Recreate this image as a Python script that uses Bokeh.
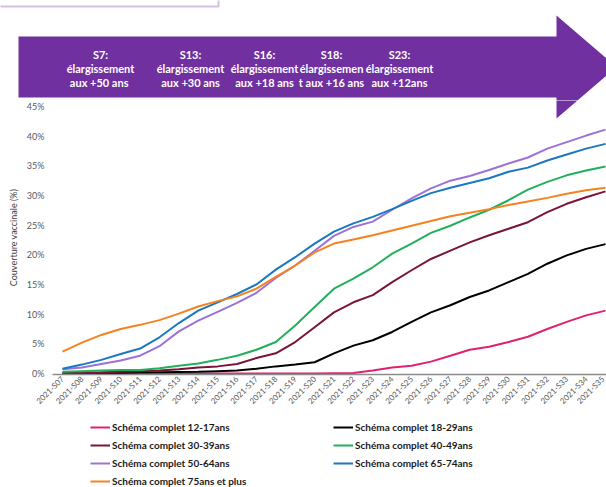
from math import pi
from bokeh.plotting import figure
from bokeh.layouts import column
from bokeh.models import (Range1d, FixedTicker, PrintfTickFormatter, Legend, LegendItem,
                          PolyAnnotation, Label)
from bokeh.embed import file_html
from bokeh.resources import INLINE

# ---------------- data ----------------
weeks = ["2021-S07", "2021-S08", "2021-S09", "2021-S10", "2021-S11", "2021-S12", "2021-S13",
         "2021-S14", "2021-S15", "2021-S16", "2021-S17", "2021-S18", "2021-S19", "2021-S20",
         "2021-S21", "2021-S22", "2021-S23", "2021-S24", "2021-S25", "2021-S26", "2021-S27",
         "2021-S28", "2021-S29", "2021-S30", "2021-S31", "2021-S32", "2021-S33", "2021-S34",
         "2021-S35"]

age_12_17 = [0, 0, 0, 0, 0, 0, 0, 0, 0, 0, 0, 0, 0, 0, 0.05, 0.1, 0.5, 1.0, 1.3, 2.0, 3.0,
             4.0, 4.5, 5.3, 6.2, 7.5, 8.7, 9.8, 10.6]
age_18_29 = [0, 0.05, 0.1, 0.1, 0.15, 0.2, 0.25, 0.3, 0.4, 0.5, 0.8, 1.2, 1.5, 1.9, 3.4, 4.7,
             5.6, 7.0, 8.7, 10.3, 11.5, 12.9, 14.0, 15.4, 16.8, 18.5, 19.9, 21.0, 21.8]
age_30_39 = [0.1, 0.15, 0.2, 0.3, 0.4, 0.5, 0.7, 1.0, 1.2, 1.6, 2.6, 3.4, 5.3, 7.8, 10.3, 12.0,
             13.2, 15.4, 17.4, 19.3, 20.7, 22.1, 23.3, 24.4, 25.5, 27.2, 28.6, 29.7, 30.7]
age_40_49 = [0.3, 0.4, 0.5, 0.6, 0.6, 0.9, 1.3, 1.7, 2.3, 3.0, 4.0, 5.3, 8.1, 11.2, 14.3, 16.0,
             17.9, 20.2, 21.9, 23.7, 24.9, 26.3, 27.6, 29.2, 31.0, 32.3, 33.4, 34.2, 34.9]
age_50_64 = [0.7, 1.0, 1.6, 2.2, 3.0, 4.6, 7.1, 8.9, 10.4, 11.9, 13.6, 16.1, 18.2, 20.7, 23.2,
             24.7, 25.6, 27.6, 29.5, 31.2, 32.5, 33.3, 34.3, 35.4, 36.4, 37.9, 39.0, 40.1, 41.1]
age_65_74 = [0.8, 1.5, 2.3, 3.3, 4.2, 6.1, 8.5, 10.6, 12.0, 13.4, 15.0, 17.5, 19.6, 21.9, 23.9,
             25.3, 26.4, 27.7, 29.1, 30.4, 31.3, 32.1, 32.9, 34.0, 34.7, 35.9, 36.9, 37.9, 38.7]
age_75_plus = [3.7, 5.2, 6.5, 7.5, 8.2, 9.0, 10.1, 11.3, 12.2, 13.0, 14.3, 16.3, 18.2, 20.4,
               21.9, 22.6, 23.3, 24.1, 24.9, 25.7, 26.5, 27.1, 27.7, 28.4, 29.0, 29.6, 30.3,
               30.9, 31.3]

series_labels = ["Schéma complet 12-17ans", "Schéma complet 18-29ans", "Schéma complet 30-39ans",
                 "Schéma complet 40-49ans", "Schéma complet 50-64ans", "Schéma complet 65-74ans",
                 "Schéma complet 75ans et plus"]
series_values = [age_12_17, age_18_29, age_30_39, age_40_49, age_50_64, age_65_74, age_75_plus]
series_colors = ["#E0226E", "#000000", "#7B1538", "#21B05A", "#9B72D6", "#1A78C2", "#F58220"]

y_ticks = [0, 5, 10, 15, 20, 25, 30, 35, 40, 45]

banner_titles = ["S7:", "S13:", "S16:", "S18:", "S23:"]
banner_line2 = ["élargissement", "élargissement", "élargissement", "élargissemen", "élargissement"]
banner_line3 = ["aux +50  ans", "aux +30 ans", "aux +18 ans", "t aux +16 ans", "aux +12ans"]

PURPLE = "#7030A0"
W = 606
H_BANNER, H_MAIN, H_LEG = 100, 315, 72

# arrow outline and top box in page pixels
arrow_px = [(18, 36), (556, 36), (556, 15), (616, 66.5), (556, 118), (556, 97), (18, 97)]
box_px = [(-5, -5), (218, -5), (218, 6), (-5, 6)]

def bare(fig):
    fig.outline_line_color = None
    fig.grid.visible = False
    fig.background_fill_color = "white"
    fig.border_fill_color = "white"

# ---------------- banner figure (page-pixel coordinates) ----------------
b = figure(width=W, height=H_BANNER, output_backend="svg", toolbar_location=None,
           x_range=Range1d(0, W), y_range=Range1d(H_BANNER, 0),
           x_axis_location=None, y_axis_location=None, frame_align=False,
           min_border=0, min_border_left=0, min_border_right=0, min_border_top=0,
           min_border_bottom=0)
bare(b)
b.add_layout(PolyAnnotation(xs=[a for a, _ in arrow_px], ys=[c for _, c in arrow_px],
                            fill_color=PURPLE, fill_alpha=1, line_color=None))
b.add_layout(PolyAnnotation(xs=[a for a, _ in box_px], ys=[c for _, c in box_px],
                            fill_alpha=0, line_color=PURPLE, line_width=2))
centers = [100, 190, 264, 331, 399]
for cx, t1, t2, t3 in zip(centers, banner_titles, banner_line2, banner_line3):
    for ty, t in zip([54, 68, 82], [t1, t2, t3]):
        b.add_layout(Label(x=cx, y=ty, text=t, text_align="center",
                           text_baseline="middle", text_color="white", text_font="Lato",
                           text_font_style="bold", text_font_size="11px"))

# ---------------- main figure ----------------
FL, FR, FT, FB = 52, 606, 100, 374      # frame in page pixels
X0, X1 = -10 / 19.39, 28 + 1 / 19.39
Y0, Y1 = -1 / 5.933, 45 + 6 / 5.933
p = figure(width=W, height=H_MAIN, output_backend="svg", toolbar_location=None,
           x_range=Range1d(X0, X1), y_range=Range1d(Y0, Y1), frame_align=False,
           min_border_left=FL, min_border_right=0, min_border_top=0,
           min_border_bottom=(H_BANNER + H_MAIN) - FB)
bare(p)

def dx(px):
    return X0 + (px - FL) * (X1 - X0) / (FR - FL)
def dy(py):
    return Y0 + (FB - py) * (Y1 - Y0) / (FB - FT)

# lower part of the arrow head that overlaps the plot area
p.add_layout(PolyAnnotation(xs=[dx(a) for a, _ in arrow_px], ys=[dy(c) for _, c in arrow_px],
                            fill_color=PURPLE, fill_alpha=1, line_color=None))

x = list(range(len(weeks)))
for vals, col in zip(series_values, series_colors):
    p.line(x, vals, line_color=col, line_width=2)

p.yaxis.ticker = FixedTicker(ticks=y_ticks)
p.yaxis.formatter = PrintfTickFormatter(format="%d%%")
p.yaxis.axis_line_color = None
p.yaxis.major_tick_line_color = None
p.yaxis.minor_tick_line_color = None
p.yaxis.major_tick_out = 0
p.yaxis.major_tick_in = 0
p.yaxis.major_label_standoff = 8
p.yaxis.major_label_text_font = "Lato"
p.yaxis.major_label_text_font_size = "9px"
p.yaxis.major_label_text_color = "#595959"
p.yaxis.axis_label = "Couverture vaccinale (%)"
p.yaxis.axis_label_text_font = "Lato"
p.yaxis.axis_label_text_font_size = "9px"
p.yaxis.axis_label_text_font_style = "normal"
p.yaxis.axis_label_text_color = "#404040"
p.yaxis.axis_label_standoff = 5

p.xaxis.ticker = FixedTicker(ticks=x)
p.xaxis.major_label_overrides = {i: w for i, w in enumerate(weeks)}
p.xaxis.major_label_orientation = pi / 4
p.xaxis.major_label_text_font = "Lato"
p.xaxis.major_label_text_font_size = "8px"
p.xaxis.major_label_text_color = "#595959"
p.xaxis.axis_line_color = "#8C8C8C"
p.xaxis.axis_line_width = 1.5
p.xaxis.major_tick_line_color = None
p.xaxis.minor_tick_line_color = None
p.xaxis.major_tick_out = 0
p.xaxis.major_tick_in = 0
p.xaxis.major_label_standoff = 3

# ---------------- legend figure ----------------
lg = figure(width=W, height=H_LEG, output_backend="svg", toolbar_location=None,
            x_range=Range1d(0, 1), y_range=Range1d(0, 1), frame_align=False,
            x_axis_location=None, y_axis_location=None,
            min_border=0, min_border_left=0, min_border_right=0, min_border_top=0,
            min_border_bottom=0)
bare(lg)
swatches = [lg.line([-10, -9], [-10, -10], line_color=col, line_width=2) for col in series_colors]

def make_legend(idx, loc):
    return Legend(items=[LegendItem(label=series_labels[i], renderers=[swatches[i]]) for i in idx],
                  location=loc, orientation="vertical", glyph_width=20, glyph_height=12,
                  label_height=12, label_standoff=2, spacing=6, padding=0, margin=0,
                  border_line_color=None, background_fill_alpha=0,
                  label_text_font="Lato", label_text_font_style="bold",
                  label_text_font_size="10px", label_text_color="#1a1a1a")

lg.add_layout(make_legend([0, 2, 4, 6], (90, 0)), "center")
lg.add_layout(make_legend([1, 3, 5], (333, 18)), "center")

layout = column(b, p, lg, spacing=0)
open("out.html", "w").write(file_html(layout, INLINE))
